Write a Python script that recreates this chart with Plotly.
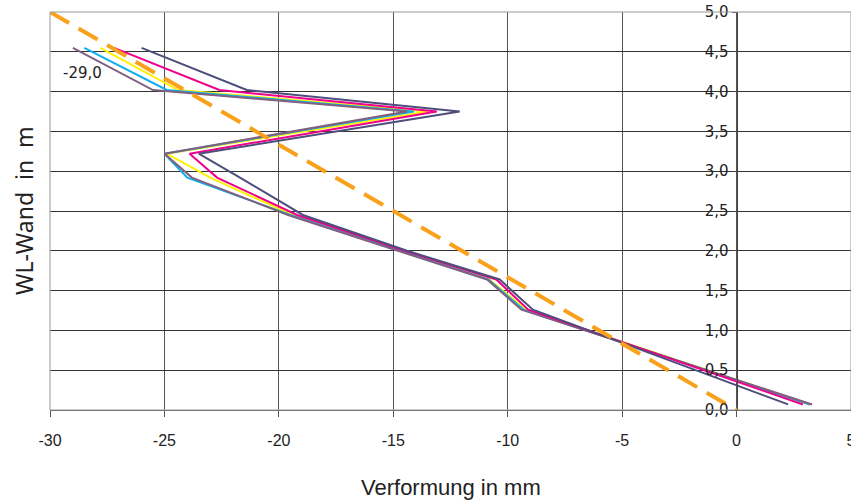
import plotly.graph_objects as go

# Heights (m) of the data points along the wall
y_levels = [4.55, 4.02, 3.75, 3.22, 2.92, 2.45, 2.00, 1.64, 1.26, 0.07]

# Deformation (mm) per series
s_mauve   = [-29.0, -25.5, -14.4, -25.0, -23.8, -19.6, -14.8, -10.9, -9.4, 3.3]
s_cyan    = [-28.5, -24.9, -14.1, -25.0, -24.0, -19.5, -14.7, -10.85, -9.3, 3.2]
s_yellow  = [-27.8, -24.4, -13.5, -24.9, -23.0, -19.4, -14.6, -10.8, -9.2, 3.2]
s_magenta = [-27.2, -22.6, -13.1, -23.9, -22.7, -19.2, -14.5, -10.5, -9.1, 2.9]
s_slate   = [-26.0, -21.4, -12.1, -23.5, -21.7, -18.95, -14.4, -10.35, -8.9, 2.25]

# Reference (dashed) line
ref_x = [-30, 0]
ref_y = [5.0, 0.0]

label_text = "-29,0"
x_ticks = [-30, -25, -20, -15, -10, -5, 0, 5]
x_tick_text = ["-30", "-25", "-20", "-15", "-10", "-5", "0", "5"]
y_ticks = [0.0, 0.5, 1.0, 1.5, 2.0, 2.5, 3.0, 3.5, 4.0, 4.5, 5.0]

series = [
    (s_yellow, "#FFF200"),
    (s_cyan, "#12AEEA"),
    (s_mauve, "#80607F"),
    (s_magenta, "#EC008C"),
    (s_slate, "#4E4E7C"),
]

fig = go.Figure()
for xs, col in series:
    fig.add_trace(go.Scatter(x=xs, y=y_levels, mode="lines",
                             line=dict(color=col, width=2), showlegend=False,
                             hoverinfo="skip"))
fig.add_trace(go.Scatter(x=ref_x, y=ref_y, mode="lines",
                         line=dict(color="#F9A11B", width=4, dash="22px,11px"),
                         showlegend=False, hoverinfo="skip"))

fig.add_annotation(x=-28.6, y=4.24, text=label_text, showarrow=False,
                   font=dict(family="DejaVu Sans", size=15, color="#222"))

fig.add_annotation(x=0.5, xref="paper", y=-0.195, yref="paper", yanchor="middle",
                   text="Verformung in mm", showarrow=False,
                   font=dict(family="Liberation Sans Narrow, Arial Narrow, sans-serif", size=22, color="#222"))
fig.add_annotation(x=0, xref="paper", xanchor="center", xshift=-26,
                   y=0.5, yref="paper", yanchor="middle", text="WL-Wand  in  m",
                   showarrow=False, textangle=-90,
                   font=dict(family="Noto Sans", size=23, color="#222"))

fig.add_shape(type="rect", xref="paper", yref="paper", x0=0, y0=0, x1=1, y1=1,
              line=dict(color="#999", width=1), layer="above")

fig.update_layout(
    width=851, height=504,
    margin=dict(l=50, r=0, t=12, b=94),
    template="none",
    paper_bgcolor="white", plot_bgcolor="white",
    separators=",.",
    xaxis=dict(range=[-30, 5], tickvals=x_ticks, ticktext=x_tick_text,
               ticks="outside", ticklen=6, ticklabeloverflow="allow",
               ticklabelstandoff=10,
               tickcolor="#555", showline=True, linecolor="#555", linewidth=1,
               showgrid=True, gridcolor="#555", gridwidth=1, zeroline=False,
               automargin=False,
               tickfont=dict(family="Liberation Sans Narrow, Arial Narrow, sans-serif", size=16, color="#222")),
    yaxis=dict(range=[0, 5], tickvals=y_ticks, tickformat=".1f", ticks="outside",
               ticklen=5, tickcolor="#444", showline=True, linecolor="#444",
               anchor="free", position=30 / 35, side="left",
               showgrid=True, gridcolor="#333", gridwidth=1, zeroline=False,
               automargin=False,
               tickfont=dict(family="DejaVu Sans", size=15, color="#222")),
)

fig.write_html("out.html")
